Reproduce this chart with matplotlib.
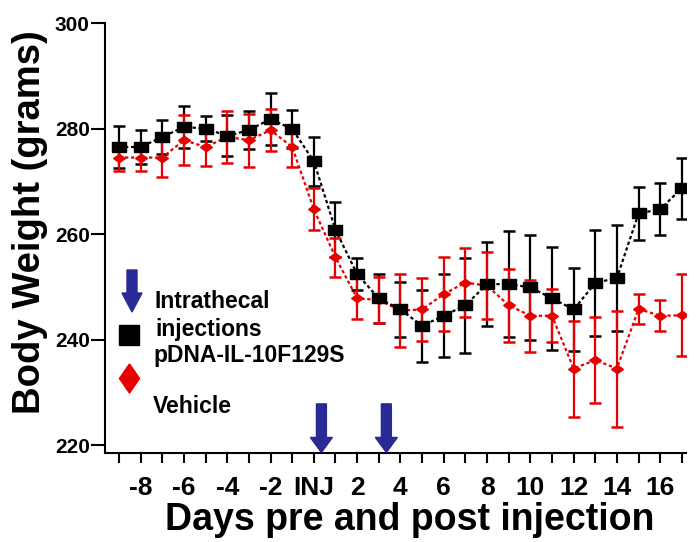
import matplotlib
matplotlib.use("Agg")
import matplotlib.pyplot as plt
from matplotlib.patches import FancyArrow
import numpy as np

plt.rcParams['font.family'] = ['Liberation Sans', 'DejaVu Sans']
plt.rcParams['font.weight'] = 'bold'

# ---------------- data ----------------
days = list(range(-9, 18))
il10_mean = [276.5, 276.5, 278.4, 280.3, 280.0, 278.6, 279.7, 281.8, 279.9, 273.8,
             260.8, 252.4, 247.8, 245.7, 242.6, 244.5, 246.5, 250.5, 250.5, 249.9,
             247.8, 245.7, 250.7, 251.7, 263.9, 264.7, 268.7]
il10_sem = [3.9, 3.2, 3.3, 4.0, 2.4, 3.9, 3.6, 5.0, 3.6, 4.6,
            5.2, 3.0, 4.7, 5.2, 6.8, 7.9, 9.0, 8.0, 10.0, 10.0,
            9.7, 7.8, 10.0, 10.0, 5.0, 4.9, 5.8]
vehicle_mean = [274.5, 274.5, 274.5, 277.8, 276.5, 278.4, 277.8, 279.7, 276.5, 264.7,
                255.6, 247.8, 247.5, 245.5, 245.7, 248.6, 250.8, 250.2, 246.5, 244.5,
                244.5, 234.5, 236.1, 234.5, 245.8, 244.5, 244.6]
vehicle_sem = [2.5, 2.5, 3.6, 4.8, 3.6, 5.0, 5.0, 4.0, 3.7, 4.0,
               3.7, 4.0, 4.3, 6.9, 6.0, 7.0, 6.6, 6.3, 6.9, 6.8,
               5.0, 9.1, 8.1, 11.0, 2.8, 2.9, 7.8]
xtick_labels = ['', '-8', '', '-6', '', '-4', '', '-2', '', 'INJ', '', '2', '', '4', '',
                '6', '', '8', '', '10', '', '12', '', '14', '', '16', '']
yticks = [220, 240, 260, 280, 300]
injection_days = [0, 3]

RED = '#e80000'
BLUE = '#2a2a96'

fig = plt.figure(figsize=(6.98, 5.42), dpi=100)
ax = fig.add_axes([0.1504, 0.1649, 0.8324, 0.7926])

sq = [(-1.3, -1), (1.3, -1), (1.3, 1), (-1.3, 1), (-1.3, -1)]
dia = [(-1.4, 0), (0, 1), (1.4, 0), (0, -1), (-1.4, 0)]

ax.errorbar(days, il10_mean, yerr=il10_sem, fmt='none', ecolor='black',
            elinewidth=1.6, capsize=4.5, capthick=1.8, zorder=2)
ax.errorbar(days, vehicle_mean, yerr=vehicle_sem, fmt='none', ecolor=RED,
            elinewidth=1.6, capsize=4.5, capthick=1.8, zorder=3)
ax.plot(days, vehicle_mean, color=RED, lw=1.6, ls=(0, (1.5, 1.2)),
        marker=dia, ms=8.5, mfc=RED, mec=RED, zorder=4)
ax.plot(days, il10_mean, color='black', lw=1.6, ls=(0, (1.5, 1.2)),
        marker=sq, ms=10, mfc='black', mec='black', zorder=5)

ax.set_xlim(-9.647, 17.19)
ax.set_ylim(218.56, 300)
ax.set_xticks(days)
ax.set_xticklabels(xtick_labels, fontsize=19, fontweight='bold')
ax.set_yticks(yticks)
ax.set_yticklabels([str(v) for v in yticks], fontsize=15, fontweight='bold')
ax.tick_params(axis='x', direction='out', length=7, width=1.5, pad=10)
ax.tick_params(axis='y', direction='out', length=10, width=1.5, pad=1)
for s in ['top', 'right']:
    ax.spines[s].set_visible(False)
for s in ['left', 'bottom']:
    ax.spines[s].set_linewidth(1.5)

ax.set_xlabel('Days pre and post injection', fontsize=27, fontweight='bold', labelpad=1)
ax.xaxis.label.set_x(0.525)
ax.set_ylabel('Body Weight (grams)', fontsize=27.5, fontweight='bold')
ax.yaxis.set_label_coords(-0.098, 0.537)

# injection arrows on the x-axis
for d in injection_days:
    ax.add_patch(FancyArrow(d + 0.35, 227.8, 0, -9.2, width=0.46, head_width=1.02,
                            head_length=2.84, length_includes_head=True,
                            color=BLUE, clip_on=False, zorder=6))

# legend (drawn manually)
ax.add_patch(FancyArrow(0.0465, 0.4251, 0, -0.0978, width=0.0172, head_width=0.0344,
                        head_length=0.0442, length_includes_head=True, color=BLUE,
                        transform=ax.transAxes, zorder=6))
ax.plot([0.0422], [0.2737], marker='s', ms=14, color='black', transform=ax.transAxes)
ax.plot([0.0413], [0.1748], marker=[(0, 1), (0.69, 0), (0, -1), (-0.69, 0), (0, 1)],
        ms=21, color=RED, transform=ax.transAxes)
ax.text(0.086, 0.3366, 'Intrathecal', transform=ax.transAxes, fontsize=16.5,
        fontweight='bold', va='baseline', ha='left')
ax.text(0.086, 0.2714, 'injections', transform=ax.transAxes, fontsize=16.5,
        fontweight='bold', va='baseline', ha='left')
ax.text(0.0826, 0.2109, 'pDNA-IL-10F129S', transform=ax.transAxes, fontsize=16.5,
        fontweight='bold', va='baseline', ha='left')
ax.text(0.0826, 0.0922, 'Vehicle', transform=ax.transAxes, fontsize=16.5,
        fontweight='bold', va='baseline', ha='left')

fig.savefig('out.png', dpi=100)
